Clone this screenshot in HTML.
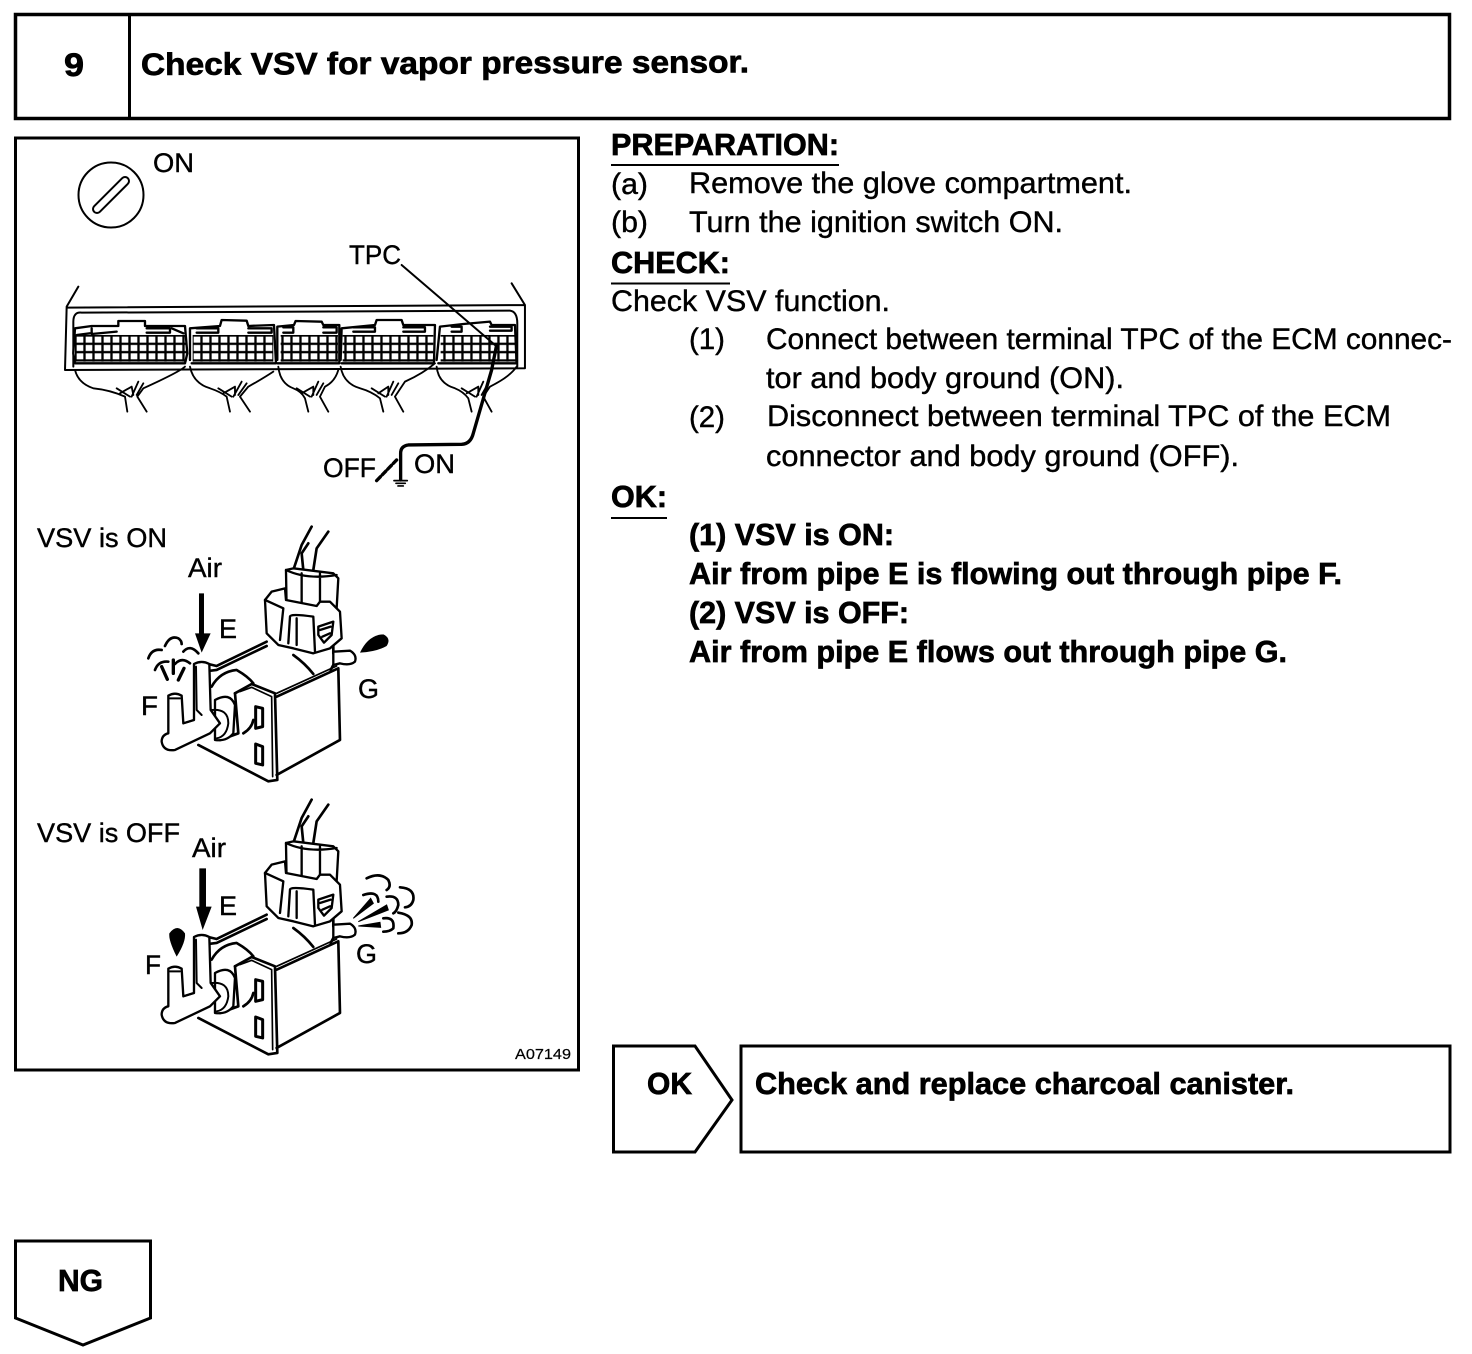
<!DOCTYPE html>
<html><head><meta charset="utf-8"><style>
html,body{margin:0;padding:0;background:#fff}
svg{display:block}
text{font-family:"Liberation Sans",sans-serif;fill:#000;stroke:none}
.b{font-weight:bold;font-size:31px;stroke:#000;stroke-width:.7px}
.t{font-size:29.5px;stroke:#000;stroke-width:.4px}
.l{font-size:27px;stroke:#000;stroke-width:.4px}
.ln{fill:none;stroke:#000;stroke-linejoin:round;stroke-linecap:round}
.wf{fill:#fff;stroke:#000;stroke-linejoin:round;stroke-linecap:round}
</style></head><body>
<svg width="1472" height="1354" viewBox="0 0 1472 1354" xmlns="http://www.w3.org/2000/svg">
<defs>
<pattern id="g" width="27" height="25" patternUnits="userSpaceOnUse" x="75" y="585">
<rect width="27" height="25" fill="#000"/><rect x="5" y="5" width="20" height="18" fill="#fff"/>
</pattern>
<g id="valve">
<g class="ln" stroke-width="8">
<path d="M575 20 L545 75 L520 150 M625 35 L590 85 L580 150 M565 70 L545 100 L550 150"/>
<path d="M265 432 L290 438 L440 365 M272 452 L290 450 L440 378"/>
<path d="M275 500 Q300 455 350 450 Q385 470 400 490 M520 405 Q555 430 580 462"/>
<path d="M470 530 L655 445 L660 660 L470 765"/>
<path d="M470 520 L650 438" stroke-width="5"/>
<path d="M345 520 L395 492 L465 520 L472 780 L445 784 L235 675"/>
<path d="M345 520 L355 640 L300 660"/>
<path d="M360 515 L395 502 L455 530 L458 770" stroke-width="5"/>
<path d="M407 560 L428 565 L428 620 L407 625 Z M407 672 L428 680 L428 735 L407 730 Z" stroke-width="9"/>
<path d="M400 600 Q395 625 370 640"/>
<path d="M640 375 L640 400 M640 435 L632 450"/>
</g>
<path class="wf" stroke-width="7" d="M640 395 L690 392 Q712 405 705 425 Q690 438 660 430 L640 435 Z"/>
<path class="wf" stroke-width="7" d="M498 150 L520 145 L640 160 L655 175 L650 265 L500 270 Z"/>
<path class="ln" stroke-width="7" d="M545 160 L545 250 M600 160 L600 260 M498 150 Q560 180 650 165"/>
<path class="wf" stroke-width="7" d="M435 240 L455 215 L495 205 L498 240 L590 258 L600 245 L630 245 L660 275 L665 355 L630 385 L580 400 L520 385 L475 375 L440 340 Z"/>
<path class="ln" stroke-width="7" d="M435 240 L490 265 L480 360 M510 290 Q510 280 580 290 L585 395 M510 290 L505 370 M530 295 L530 375 M595 320 L640 305 L635 345 L612 368 L595 345 Z M600 330 L632 320 M607 350 L630 340"/>
<path class="wf" stroke-width="7" d="M285 540 Q330 515 345 555 L340 640 Q320 665 285 660 Z"/>
<path class="ln" stroke-width="6" d="M275 570 Q325 565 325 610 Q320 650 290 655"/>
<path class="wf" stroke-width="7" d="M222 600 L222 432 Q245 420 268 432 L272 570 L300 610 L270 640 L165 690 Q130 695 125 665 Q125 645 145 640 L145 527 Q165 515 185 527 L190 610 Z"/>
<path class="ln" stroke-width="6" d="M228 440 L230 570 M230 570 L245 585 M190 610 L222 600 M150 535 L180 535"/>
</g>
</defs>

<!-- header -->
<rect x="15.5" y="14.5" width="1434" height="104" fill="none" stroke="#000" stroke-width="3.5"/>
<line x1="129.5" y1="14" x2="129.5" y2="118" stroke="#000" stroke-width="3"/>
<text class="b" x="64" y="76" style="font-size:32px" textLength="20" lengthAdjust="spacingAndGlyphs">9</text>
<text class="b" x="141" y="75" textLength="608" lengthAdjust="spacingAndGlyphs" transform="rotate(-.25 141 75)">Check VSV for vapor pressure sensor.</text>

<!-- diagram box -->
<rect x="15.5" y="138" width="563" height="932" fill="none" stroke="#000" stroke-width="3"/>

<!-- ignition switch -->
<circle cx="111" cy="195" r="32.500" fill="none" stroke="#000" stroke-width="2"/>
<line x1="97" y1="209" x2="125" y2="181" stroke="#000" stroke-width="10" stroke-linecap="round"/>
<line x1="97" y1="209" x2="125" y2="181" stroke="#fff" stroke-width="6" stroke-linecap="round"/>
<text class="l" x="153" y="172" textLength="41" lengthAdjust="spacingAndGlyphs">ON</text>
<text class="l" x="349" y="264" textLength="52" lengthAdjust="spacingAndGlyphs">TPC</text>

<!-- ECM connector -->
<g transform="translate(50 140) scale(.3333)">
<g class="ln" stroke-width="6">
<path d="M85 440 L50 500 L45 690 L1425 685 L1425 495 L1385 430 M50 503 L1425 495"/>
<path d="M70 680 L70 545 Q70 515 95 518 L1380 512 Q1402 515 1402 550 L1402 680"/>
</g>
<g>
<rect x="75" y="585" width="335" height="80" fill="url(#g)"/>
<rect x="428" y="585" width="242" height="80" fill="url(#g)"/>
<rect x="692" y="585" width="172" height="80" fill="url(#g)"/>
<rect x="878" y="585" width="272" height="80" fill="url(#g)"/>
<rect x="1172" y="585" width="226" height="80" fill="url(#g)"/>
</g>
<g class="ln" stroke-width="7">
<path d="M70 640 L75 565 L125 558 L205 558 L205 543 L285 543 L285 558 L405 558 L412 640 L405 670 L75 670 Z M125 565 L125 582 L200 575 M290 565 L360 565 L360 578 L290 578 M80 585 L120 580 M365 565 L400 580"/>
<path d="M420 660 L420 565 L510 558 L515 540 L590 542 L595 558 L672 555 L678 670 L425 670 M440 565 L505 565 L505 578 L440 578 M595 565 L665 565 L665 578 L595 578"/>
<path d="M682 660 L682 560 L732 555 L737 543 L815 545 L820 555 L868 555 L868 670 L682 670 M700 562 L730 562 L730 578 L700 578 M820 562 L860 562 L860 578 L820 578"/>
<path d="M872 660 L875 565 L975 555 L980 540 L1055 540 L1060 555 L1155 555 L1152 670 L875 670 M910 562 L975 562 L975 575 L910 575 M1060 562 L1125 562 L1125 575 L1060 575"/>
<path d="M1160 660 L1170 560 L1240 552 L1320 545 L1325 555 L1395 555 L1400 670 L1165 670 M1205 560 L1235 560 L1235 575 L1205 575 M1320 560 L1385 560 L1385 572 L1320 572"/>
</g>
<g class="ln" stroke-width="5.500">
<path d="M75 690 Q85 730 130 745 Q180 750 225 770 M405 680 Q390 695 280 745 L262 770 M225 770 L232 815 M262 770 L290 815 M200 745 L240 770 M210 760 L245 740 L250 765 M245 770 L265 725 M260 765 L280 730"/>
<path d="M420 680 Q430 730 480 745 Q510 755 530 770 M670 695 Q640 715 595 740 L570 770 M530 770 L540 815 M570 770 L600 815 M505 745 L545 770 M520 760 L555 740 L555 765 M550 770 L575 725 M565 765 L590 730"/>
<path d="M685 680 Q690 730 730 745 Q755 755 765 775 M865 690 Q855 725 825 740 L810 770 M765 775 L775 815 M810 770 L835 815 M740 745 L780 770 M755 760 L790 740 L790 765 M785 770 L805 725 M800 765 L820 730"/>
<path d="M872 680 Q880 730 930 745 Q965 755 990 775 M1155 670 Q1120 700 1065 725 L1035 770 M990 775 L1000 815 M1035 770 L1060 815 M965 745 L1005 770 M985 760 L1015 740 L1015 765 M1010 770 L1030 725 M1025 765 L1045 730"/>
<path d="M1160 680 Q1165 730 1215 745 Q1240 755 1255 775 M1400 680 Q1380 710 1320 740 L1300 770 M1255 775 L1265 815 M1300 770 L1325 815 M1235 745 L1275 770 M1250 760 L1285 740 L1285 765 M1280 770 L1300 725 M1295 765 L1315 730"/>
</g>
<path class="ln" stroke-width="6" d="M1055 375 L1335 615"/>
<path class="ln" stroke-width="10" d="M1340 615 L1325 690 L1270 880 Q1262 912 1235 913 L1075 915 Q1052 918 1052 940 L1052 1020"/>
<path class="ln" stroke-width="5" d="M1032 1022 L1072 1022 M1038 1030 L1066 1030 M1044 1038 L1060 1038"/>
<path class="ln" stroke-width="10" d="M980 1022 L1040 960" stroke-dasharray="16 8"/>
</g>
<text class="l" x="323" y="477" textLength="53" lengthAdjust="spacingAndGlyphs">OFF</text>
<text class="l" x="414" y="473" textLength="41" lengthAdjust="spacingAndGlyphs">ON</text>

<!-- VSV ON -->
<text class="l" x="37" y="547" textLength="130" lengthAdjust="spacingAndGlyphs">VSV is ON</text>
<text class="l" x="188" y="577" textLength="34" lengthAdjust="spacingAndGlyphs">Air</text>
<text class="l" x="219" y="638" textLength="18" lengthAdjust="spacingAndGlyphs">E</text>
<text class="l" x="141" y="715" textLength="17" lengthAdjust="spacingAndGlyphs">F</text>
<text class="l" x="358" y="698" textLength="21" lengthAdjust="spacingAndGlyphs">G</text>
<g transform="translate(120 520) scale(.3333)">
<use href="#valve"/>
<path d="M237 220 L252 220 L252 340 L272 340 L245 398 L225 340 L237 340 Z" fill="#000"/>
<path d="M720 398 Q745 345 790 343 Q815 355 800 378 Q770 395 720 398 Z" fill="#000"/>
<g class="ln" stroke-width="8">
<path d="M85 415 Q95 385 125 390 M135 378 Q150 345 175 355 Q185 362 185 372 M190 395 Q210 372 235 400 M105 450 Q115 422 145 425 M165 432 Q185 410 210 430"/>
<path d="M160 420 L160 460 M125 440 L142 478 M192 445 L175 480" stroke-width="10"/>
</g>
</g>

<!-- VSV OFF -->
<text class="l" x="37" y="842" textLength="143" lengthAdjust="spacingAndGlyphs">VSV is OFF</text>
<text class="l" x="192" y="857" textLength="34" lengthAdjust="spacingAndGlyphs">Air</text>
<text class="l" x="219" y="915" textLength="18" lengthAdjust="spacingAndGlyphs">E</text>
<text class="l" x="145" y="974" textLength="16" lengthAdjust="spacingAndGlyphs">F</text>
<text class="l" x="356" y="963" textLength="21" lengthAdjust="spacingAndGlyphs">G</text>
<g transform="translate(120 793) scale(.3333)">
<use href="#valve"/>
</g>
<g transform="translate(130 800) scale(.3333)">
<path d="M208 205 L228 205 L228 320 L245 320 L218 390 L198 320 L208 320 Z" fill="#000"/>
<path d="M140 470 Q115 420 118 400 Q142 368 165 400 Q168 425 140 470 Z" fill="#000"/>
<g class="ln" stroke-width="8">
<path d="M710 235 Q750 215 775 240 Q785 260 770 270 M810 262 Q855 265 850 300 Q845 320 825 322 M770 290 Q805 285 805 315 Q800 335 790 340 M700 285 Q745 270 745 305 M805 338 Q850 345 845 375 Q835 400 805 400 M760 355 Q795 350 790 385 Q780 395 760 395"/>
</g>
<path d="M670 355 L722 295 L730 310 Z M685 365 L770 315 L775 330 Z M685 378 L750 367 L752 382 Z" fill="#000" stroke="#000" stroke-width="3"/>
</g>

<text x="515" y="1059" style="font-size:14.5px;stroke:#000;stroke-width:.2px" textLength="56" lengthAdjust="spacingAndGlyphs">A07149</text>

<!-- right text -->
<text class="b" x="611" y="155" textLength="228" lengthAdjust="spacingAndGlyphs">PREPARATION:</text>
<line x1="611" y1="165" x2="839" y2="165" stroke="#000" stroke-width="2"/>
<text class="t" x="611" y="194" textLength="37" lengthAdjust="spacingAndGlyphs">(a)</text>
<text class="t" x="689" y="193" textLength="443" lengthAdjust="spacingAndGlyphs">Remove the glove compartment.</text>
<text class="t" x="611" y="232" textLength="37" lengthAdjust="spacingAndGlyphs">(b)</text>
<text class="t" x="689" y="232" textLength="374" lengthAdjust="spacingAndGlyphs">Turn the ignition switch ON.</text>
<text class="b" x="611" y="273" textLength="119" lengthAdjust="spacingAndGlyphs">CHECK:</text>
<line x1="611" y1="283.500" x2="730" y2="283.500" stroke="#000" stroke-width="2"/>
<text class="t" x="611" y="311" textLength="279" lengthAdjust="spacingAndGlyphs">Check VSV function.</text>
<text class="t" x="689" y="349" textLength="36" lengthAdjust="spacingAndGlyphs">(1)</text>
<text class="t" x="766" y="349" textLength="686" lengthAdjust="spacingAndGlyphs">Connect between terminal TPC of the ECM connec-</text>
<text class="t" x="766" y="388" textLength="358" lengthAdjust="spacingAndGlyphs">tor and body ground (ON).</text>
<text class="t" x="689" y="427" textLength="36" lengthAdjust="spacingAndGlyphs">(2)</text>
<text class="t" x="767" y="426" textLength="624" lengthAdjust="spacingAndGlyphs">Disconnect between terminal TPC of the ECM</text>
<text class="t" x="766" y="466" textLength="473" lengthAdjust="spacingAndGlyphs">connector and body ground (OFF).</text>
<text class="b" x="611" y="507" textLength="56" lengthAdjust="spacingAndGlyphs">OK:</text>
<line x1="611" y1="518" x2="667" y2="518" stroke="#000" stroke-width="2"/>
<text class="b" x="689" y="545" textLength="205" lengthAdjust="spacingAndGlyphs">(1) VSV is ON:</text>
<text class="b" x="689" y="584" textLength="653" lengthAdjust="spacingAndGlyphs">Air from pipe E is flowing out through pipe F.</text>
<text class="b" x="689" y="623" textLength="220" lengthAdjust="spacingAndGlyphs">(2) VSV is OFF:</text>
<text class="b" x="689" y="662" textLength="598" lengthAdjust="spacingAndGlyphs">Air from pipe E flows out through pipe G.</text>

<!-- OK -->
<path d="M613.500 1046 L695 1046 L732 1100 L695 1152 L613.500 1152 Z" fill="none" stroke="#000" stroke-width="3"/>
<text class="b" x="647" y="1094" textLength="45" lengthAdjust="spacingAndGlyphs">OK</text>
<rect x="741" y="1046" width="709" height="106" fill="none" stroke="#000" stroke-width="3"/>
<text class="b" x="755" y="1094" textLength="539" lengthAdjust="spacingAndGlyphs">Check and replace charcoal canister.</text>

<!-- NG -->
<path d="M15.500 1241 L150.500 1241 L150.500 1318 L83 1345 L15.500 1318 Z" fill="none" stroke="#000" stroke-width="3"/>
<text class="b" x="58" y="1291" textLength="45" lengthAdjust="spacingAndGlyphs">NG</text>
</svg>
</body></html>
